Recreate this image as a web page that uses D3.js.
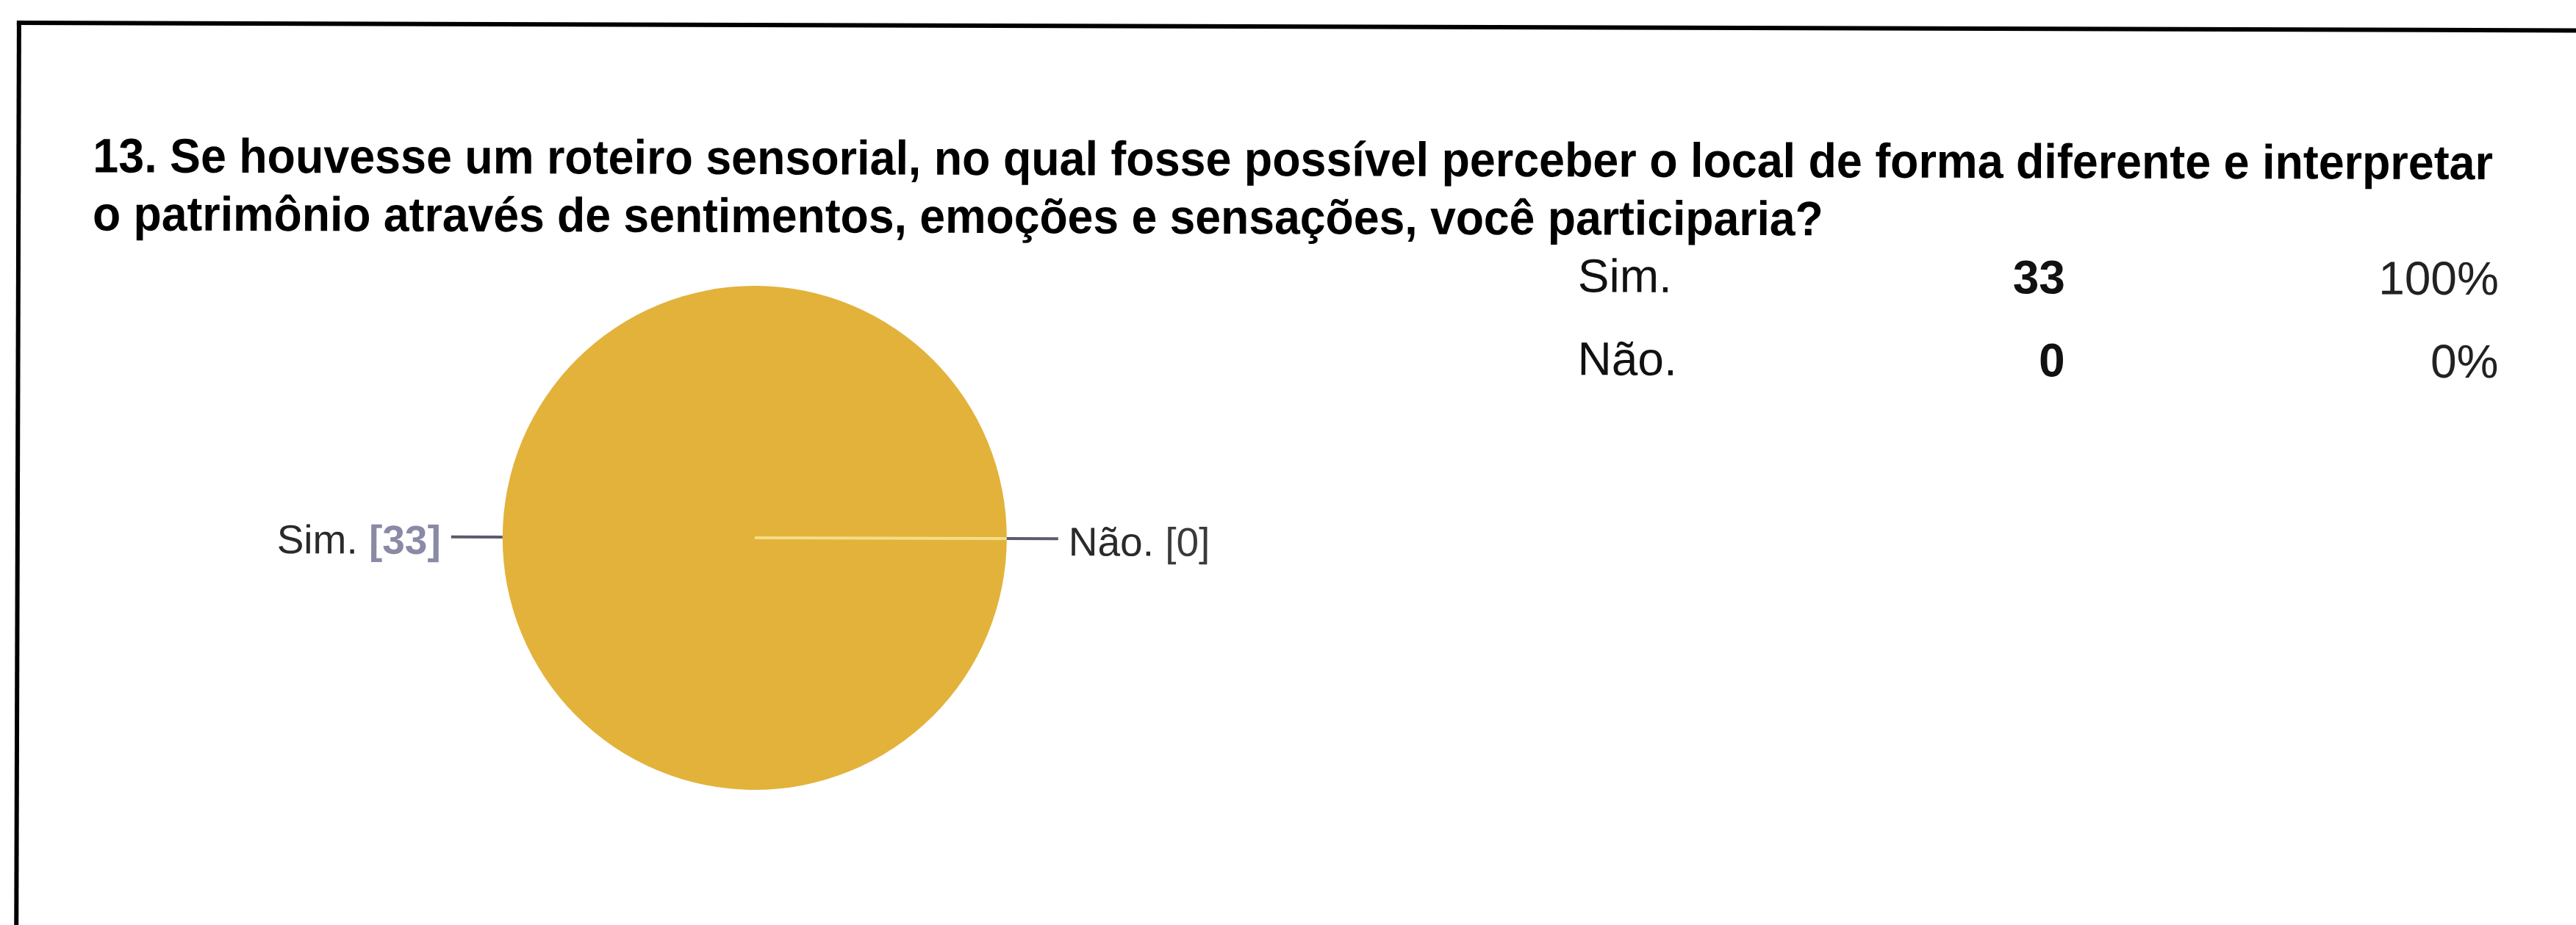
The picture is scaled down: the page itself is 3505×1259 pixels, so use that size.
<!DOCTYPE html>
<html>
<head>
<meta charset="utf-8">
<script src="https://cdn.jsdelivr.net/npm/d3@7"></script>
<style>
  html, body { margin: 0; padding: 0; background: #ffffff; }
  svg { display: block; }
</style>
</head>
<body>
<script>
// Survey question 13 — responses
const titleLines = [
  "13. Se houvesse um roteiro sensorial, no qual fosse possível perceber o local de forma diferente e interpretar",
  "o patrimônio através de sentimentos, emoções e sensações, você participaria?"
];
const categories = ["Sim.", "Não."];
const counts = [33, 0];
const sliceColors = ["#e2b23b", "#dc3912"];

const W = 3505, H = 1259;
const svg = d3.select("body").append("svg")
  .attr("width", W).attr("height", H);

// the printed page sits at a very slight tilt
const page = svg.append("g").attr("transform", "rotate(0.17)");

// frame: top and left rules of the question box
page.append("line")
  .attr("x1", 23).attr("x2", W + 20).attr("y1", 31).attr("y2", 31)
  .attr("stroke", "#000").attr("stroke-width", 6);
page.append("line")
  .attr("x1", 26).attr("x2", 26).attr("y1", 28).attr("y2", H + 20)
  .attr("stroke", "#000").attr("stroke-width", 6);

// question title: bold, horizontally condensed to the printed line widths
const titleWidths = [3266, 2355];
const titleBaselines = [234, 313];
const titleG = page.selectAll("g.title")
  .data(titleLines)
  .join("g")
  .attr("class", "title");
const titleText = titleG.append("text")
  .style("font-family", "'Liberation Sans', Arial, sans-serif")
  .style("font-weight", "bold")
  .style("font-size", "66px")
  .attr("fill", "#000")
  .text(d => d);
titleG.attr("transform", function(d, i) {
  const natural = d3.select(this).select("text").node().getComputedTextLength();
  const sx = titleWidths[i] / natural;
  return `translate(127,${titleBaselines[i]}) scale(${sx},1)`;
});

// summary table: label, count, percentage
const total = d3.sum(counts);
const pct = d3.format(".0%");
const rowY = d3.scalePoint().domain(categories).range([391, 504]);
const table = page.append("g")
  .style("font-family", "'Liberation Sans', Arial, sans-serif")
  .style("font-size", "64px")
  .attr("fill", "#111");
const rows = table.selectAll("g.row")
  .data(categories.map((c, i) => ({ name: c, count: counts[i] })))
  .join("g").attr("class", "row")
  .attr("transform", d => `translate(0,${rowY(d.name)})`);
rows.append("text").attr("x", 2148).text(d => d.name);
rows.append("text").attr("x", 2811).attr("text-anchor", "end")
  .style("font-weight", "bold").text(d => d.count);
rows.append("text").attr("x", 3401).attr("text-anchor", "end")
  .attr("fill", "#222").text(d => pct(total ? d.count / total : 0));

// pie chart, starting at 3 o'clock
const cx = 1029, cy = 729, r = 343;
const pie = d3.pie().sort(null)
  .startAngle(Math.PI / 2).endAngle(Math.PI / 2 + 2 * Math.PI);
const arcs = pie(counts);
const arc = d3.arc().innerRadius(0).outerRadius(r);
const color = d3.scaleOrdinal().domain(categories).range(sliceColors);

const pg = page.append("g").attr("transform", `translate(${cx},${cy})`);
pg.selectAll("path.slice")
  .data(arcs)
  .join("path")
  .attr("class", "slice")
  .attr("d", arc)
  .attr("fill", (d, i) => color(categories[i]));

// slice boundary where the empty "Não." slice sits
const pol = (a, rad) => [Math.sin(a) * rad, -Math.cos(a) * rad];
const edgeAngle = arcs[1].startAngle;
pg.append("line")
  .attr("x1", 0).attr("y1", 0)
  .attr("x2", pol(edgeAngle, r)[0]).attr("y2", pol(edgeAngle, r)[1])
  .attr("stroke", "#f4dd88").attr("stroke-width", 4);

// leader lines and labels
const lead = 70, gap = 14;
const labels = arcs.map((a, i) => {
  const mid = (a.startAngle + a.endAngle) / 2;
  return { mid, name: categories[i], count: counts[i], right: Math.sin(mid) > 0 };
});
pg.selectAll("line.leader")
  .data(labels)
  .join("line")
  .attr("class", "leader")
  .attr("x1", d => pol(d.mid, r)[0]).attr("y1", d => pol(d.mid, r)[1])
  .attr("x2", d => pol(d.mid, r + lead)[0]).attr("y2", d => pol(d.mid, r + lead)[1])
  .attr("stroke", "#5b5b6e").attr("stroke-width", 4);

const lab = pg.selectAll("text.plabel")
  .data(labels)
  .join("text")
  .attr("class", "plabel")
  .attr("x", d => pol(d.mid, r + lead)[0] + (d.right ? gap : -gap))
  .attr("y", d => pol(d.mid, r + lead)[1] + 23)
  .attr("text-anchor", d => d.right ? "start" : "end")
  .style("font-family", "'Liberation Sans', Arial, sans-serif")
  .style("font-size", "55px");
lab.append("tspan").attr("fill", "#2a2a2a").text(d => d.name + " ");
lab.append("tspan")
  .attr("fill", d => d.right ? "#3a3a3a" : "#8a8aa6")
  .style("font-weight", d => d.right ? "normal" : "bold")
  .text(d => `[${d.count}]`);
</script>
</body>
</html>
